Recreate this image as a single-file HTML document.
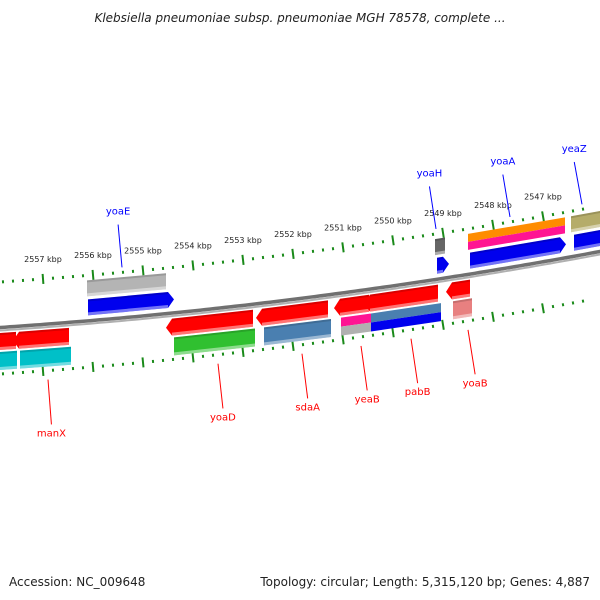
<!DOCTYPE html>
<html><head><meta charset="utf-8"><style>
html,body{margin:0;padding:0;background:#fff;}
svg{display:block;font-family:"DejaVu Sans","Liberation Sans",sans-serif;}
</style></head><body>
<svg id="map" width="600" height="600" viewBox="0 0 600 600">
<text x="300" y="22" text-anchor="middle" font-size="12" font-style="italic" fill="#222">Klebsiella pneumoniae subsp. pneumoniae MGH 78578, complete ...</text>
<text x="9" y="586" font-size="12" fill="#222">Accession: NC_009648</text>
<text x="590" y="586" font-size="12" text-anchor="end" fill="#222">Topology: circular; Length: 5,315,120 bp; Genes: 4,887</text>
<g id="layer"></g>
</svg>
<script>
// kbp scale: x = 43 + (2557 - kbp) * 50
const tickKbp = [2558,2557,2556,2555,2554,2553,2552,2551,2550,2549,2548,2547,2546];
const tickLabels = ["2557 kbp","2556 kbp","2555 kbp","2554 kbp","2553 kbp","2552 kbp","2551 kbp","2550 kbp","2549 kbp","2548 kbp","2547 kbp"];
const labelKbp = [2557,2556,2555,2554,2553,2552,2551,2550,2549,2548,2547];
const geneStart = [2556.12,2556.10,2549.16,2549.12,2548.50,2548.46,2546.44,2546.38, 2557.86,2557.48,2554.42,2552.62,2551.06,2550.46,2548.82, 2557.86,2557.46,2554.38,2552.58,2551.04,2550.44,2548.80];
const geneEnd   = [2554.54,2554.50,2548.96,2549.00,2546.56,2546.66,2545.80,2545.80, 2557.54,2556.48,2552.80,2551.30,2550.48,2549.10,2548.46, 2557.52,2556.44,2552.76,2551.24,2550.44,2549.04,2548.42];
const geneStrand= [1,1,1,1,1,1,1,1, -1,-1,-1,-1,-1,-1,-1, -1,-1,-1,-1,-1,-1,-1];
const geneRow   = [1,2,1,2,1,2,1,2, 1,1,1,1,1,1,1, 2,2,2,2,2,2,2];
const geneColor = ["#b4b4b4","#0000ee","#666666","#0000ee","split:#ff8c00:#ff1493","#0000ee","#b5ac6a","#0000ee",
 "#ff0000","#ff0000","#ff0000","#ff0000","#ff0000","#ff0000","#ff0000",
 "#00c0c8","#00c0c8","#30c030","#4a7fb0","split:#ff1493:#b0b0b0","split:#4a7fb0:#0000ee","#e88080"];
const geneArrow = [0,1,0,1,0,1,0,0, -1,-1,-1,-1,-1,-1,-1, 0,0,0,0,0,0,0];
const geneNames = ["yoaE","yoaH","yoaA","yeaZ","manX","yoaD","sdaA","yeaB","pabB","yoaB"];
const nameKbp   = [2555.42,2549.14,2547.66,2546.22,2556.90,2553.50,2551.82,2550.64,2549.64,2548.50];
const nameSide  = [1,1,1,1,-1,-1,-1,-1,-1,-1];

const NS="http://www.w3.org/2000/svg";
const layer=document.getElementById('layer');
const X=k=>43+(2557-k)*50;
const f=x=>329-0.0667*x-0.0001*x*x;
const fp=x=>-0.0667-0.0002*x;
function P(x,d){return [x, f(x)+d];}
function N(x,d,base){const s=fp(x),n=Math.sqrt(1+s*s);return [x-(d-base)*s/n, f(x)+base+(d-base)/n];}
function mk(tag,attrs,name,parent){const e=document.createElementNS(NS,tag);for(const k in attrs)e.setAttribute(k,attrs[k]);


(parent||layer).appendChild(e);return e;}
function pts(a){return a.map(p=>p[0].toFixed(1)+','+p[1].toFixed(1)).join(' ');}
function band(x1,x2,d1,d2,arrow){
  const a=[P(x1,d1),P(x2,d1)];
  if(arrow===1){a.push(P(x2+6,(d1+d2)/2));}
  a.push(P(x2,d2),P(x1,d2));
  if(arrow===-1){a.push(P(x1-6,(d1+d2)/2));}
  return a;
}
// backbone
let bb=[],bb2=[];
for(let x=-5;x<=605;x+=5){bb.push(P(x,-1.5));bb2.push(P(x,1.5));}
mk('polyline',{points:pts(bb),fill:'none',stroke:'#707070',"stroke-width":3.5},'backbone');
mk('polyline',{points:pts(bb2),fill:'none',stroke:'#b0b0b0',"stroke-width":2},'backbone-shade');
// tick rings
[[-47,'top'],[45,'bottom']].forEach(([d,nm])=>{
  for(let i=0;i<tickKbp.length-1;i++){
    for(let j=0;j<5;j++){
      const x=X(tickKbp[i])+j*10;
      if(x<-5||x>605)continue;
      if(j===0){const a=N(x,d-5,d),b=N(x,d+5,d);
        mk('line',{x1:a[0],y1:a[1],x2:b[0],y2:b[1],stroke:'#1a8a1a',"stroke-width":2},nm+'-major-tick');}
      else{const a=N(x,d-1.5,d),b=N(x,d+1.5,d);
        mk('line',{x1:a[0],y1:a[1],x2:b[0],y2:b[1],stroke:'#1a8a1a',"stroke-width":2},nm+'-minor-tick');}
    }
  }
});
labelKbp.forEach((k,i)=>{const x=X(k);const p=P(x,-64);
  const t=mk('text',{x:p[0],y:p[1],"font-size":8,"text-anchor":"middle",fill:'#222'},'tick-label');t.textContent=tickLabels[i];});
// genes
const rows={1:{'1':[-42,-26],'2':[-23,-7]},'-1':{'1':[4,21],'2':[23,41]}};
for(let i=0;i<geneStart.length;i++){
  const x1=X(geneStart[i]),x2=X(geneEnd[i]);
  let [d1,d2]=rows[geneStrand[i]][geneRow[i]];
  const g=mk('g',{},'gene-feature');
  const c=geneColor[i];
  if(c.startsWith('split')){const [,ca,cb]=c.split(':');const m=(d1+d2)/2;
    mk('polygon',{points:pts(band(x1,x2,d1,m,0)),fill:ca},'gene-part',g);
    mk('polygon',{points:pts(band(x1,x2,m,d2,geneArrow[i])),fill:cb},'gene-part',g);
  } else {
    mk('polygon',{points:pts(band(x1,x2,d1,d2,geneArrow[i])),fill:c},'gene-body',g);
    mk('polygon',{points:pts(band(x1,x2,d2-3,d2,0)),fill:'#fff',opacity:0.45},'gene-highlight',g);
    mk('polygon',{points:pts(band(x1,x2,d1,d1+2,0)),fill:'#000',opacity:0.15},'gene-edge',g);
  }
}
// gene name labels
geneNames.forEach((n,i)=>{
  const x=X(nameKbp[i]);const side=nameSide[i];
  const col=side>0?'#0000ff':'#ff0000';
  const base=side>0?-52:54;
  const a=N(x,base,base),b=N(x,side>0?-95:99,base);
  mk('line',{x1:a[0],y1:a[1],x2:b[0],y2:b[1],stroke:col,"stroke-width":1},'label-leader');
  const t=mk('text',{x:b[0],y:side>0?b[1]-10:b[1]+12,"font-size":10,"text-anchor":"middle",fill:col},'gene-label-'+n);
  t.textContent=n;
});
</script>
</body></html>
